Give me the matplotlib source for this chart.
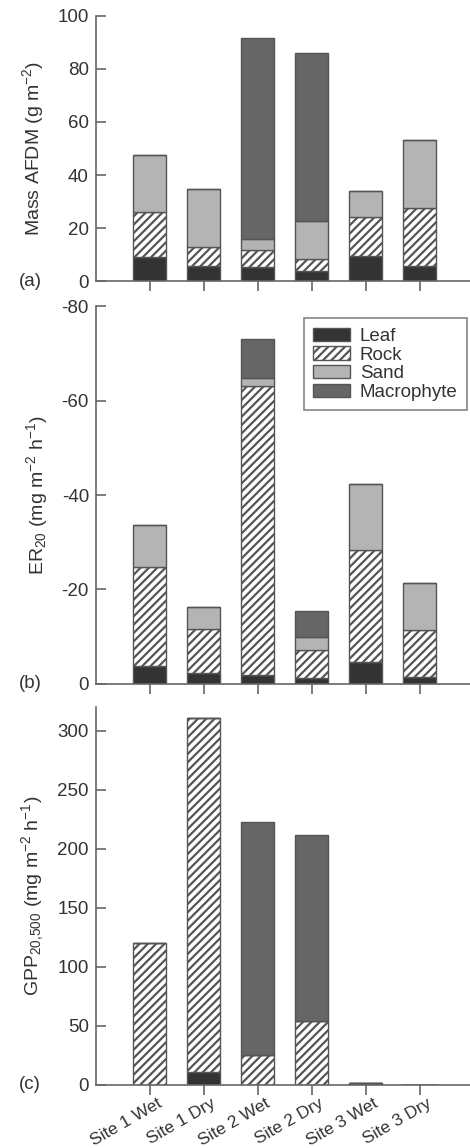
import matplotlib
matplotlib.use("Agg")
import matplotlib.pyplot as plt
import matplotlib.transforms as mtransforms
import numpy as np

plt.rcParams['font.family'] = ['Liberation Sans', 'DejaVu Sans']
plt.rcParams['mathtext.default'] = 'regular'
plt.rcParams['axes.unicode_minus'] = False
plt.rcParams['hatch.linewidth'] = 1.6
plt.rcParams['hatch.color'] = '#222222'

sites = ["Site 1 Wet", "Site 1 Dry", "Site 2 Wet", "Site 2 Dry", "Site 3 Wet", "Site 3 Dry"]
components = ["Leaf", "Rock", "Sand", "Macrophyte"]

# (a) mass AFDM, g m-2
mass_leaf = [9.2, 5.8, 5.4, 3.9, 9.6, 5.8]
mass_rock = [16.7, 7.2, 6.2, 4.3, 14.5, 21.7]
mass_sand = [21.8, 21.8, 4.2, 14.5, 9.7, 25.7]
mass_macro = [0, 0, 75.9, 63.2, 0, 0]

# (b) ER20, mg m-2 h-1 (negative)
er_leaf = [-3.9, -2.3, -2.0, -1.2, -4.7, -1.5]
er_rock = [-20.9, -9.3, -61.0, -5.9, -23.7, -10.0]
er_sand = [-8.9, -4.6, -1.8, -2.85, -13.9, -9.8]
er_macro = [0, 0, -8.2, -5.55, 0, 0]

# (c) GPP20,500, mg m-2 h-1
gpp_leaf = [0, 10.7, 0, 0, 2.0, 0]
gpp_rock = [120.6, 299.8, 25.4, 54.5, 0, 0]
gpp_sand = [0, 0, 0, 0, 0, 0]
gpp_macro = [0, 0, 196.9, 157.1, 0, 0]

colors = ['#333333', 'white', '#b4b4b4', '#666666']
hatches = [None, '////', None, None]
edge = '#555555'

fig = plt.figure(figsize=(4.7, 11.48), dpi=100)
axes = [
    fig.add_axes([0.204, 0.7552, 0.796, 0.2309]),
    fig.add_axes([0.204, 0.4042, 0.796, 0.3292]),
    fig.add_axes([0.204, 0.0549, 0.796, 0.3292]),
]

panels = [
    ([mass_leaf, mass_rock, mass_sand, mass_macro], (0, 100), np.arange(0, 101, 20),
     'Mass AFDM (g m$^{-2}$)', '(a)'),
    ([er_leaf, er_rock, er_sand, er_macro], (0, -80), np.arange(-80, 1, 20),
     'ER$_{20}$ (mg m$^{-2}$ h$^{-1}$)', '(b)'),
    ([gpp_leaf, gpp_rock, gpp_sand, gpp_macro], (0, 320), np.arange(0, 301, 50),
     'GPP$_{20{,}500}$ (mg m$^{-2}$ h$^{-1}$)', '(c)'),
]

x = np.arange(1, len(sites) + 1)
for ax, (series, ylim, yticks, ylabel, tag) in zip(axes, panels):
    bottom = np.zeros(len(sites))
    for vals, name, c, h in zip(series, components, colors, hatches):
        vals = np.array(vals, dtype=float)
        ax.bar(x, vals, 0.61, bottom=bottom, color=c, hatch=h, edgecolor=edge,
               linewidth=1.0, label=name)
        bottom += vals
    ax.set_xlim(0, 6.93)
    ax.set_ylim(*ylim)
    ax.set_yticks(yticks)
    ax.set_xticks(x)
    ax.spines['top'].set_visible(False)
    ax.spines['right'].set_visible(False)
    for s in ['left', 'bottom']:
        ax.spines[s].set_color('#666666')
        ax.spines[s].set_linewidth(1.2)
    ax.tick_params(axis='y', direction='in', length=7, width=1.2, color='#666666',
                   labelsize=13.5, labelcolor='#333333', pad=5)
    ax.tick_params(axis='x', direction='out', length=7, width=1.2, color='#666666',
                   labelsize=12.5, labelcolor='#333333', pad=1)
    ax.set_ylabel(ylabel, fontsize=14, color='#333333', labelpad=8)
    ax.text(-0.176, 0.0, tag, transform=ax.transAxes, fontsize=13.5, color='#333333',
            ha='center', va='center')

axes[0].set_xticklabels([])
axes[1].set_xticklabels([])
axes[2].set_xticklabels(sites, rotation=30, ha='right', va='top', rotation_mode='anchor')
shift = mtransforms.ScaledTranslation(0.07, 0, fig.dpi_scale_trans)
for lbl in axes[2].get_xticklabels():
    lbl.set_transform(lbl.get_transform() + shift)

leg = axes[1].legend(loc='upper right', bbox_to_anchor=(0.992, 0.968), borderaxespad=0,
                     fontsize=13.5, handlelength=1.95, handleheight=0.72, handletextpad=0.55,
                     labelspacing=0.08, fancybox=False, borderpad=0.5)
leg.get_frame().set_edgecolor('#666666')
leg.get_frame().set_linewidth(1.2)
for t in leg.get_texts():
    t.set_color('#333333')

fig.savefig('out.png', dpi=100)
